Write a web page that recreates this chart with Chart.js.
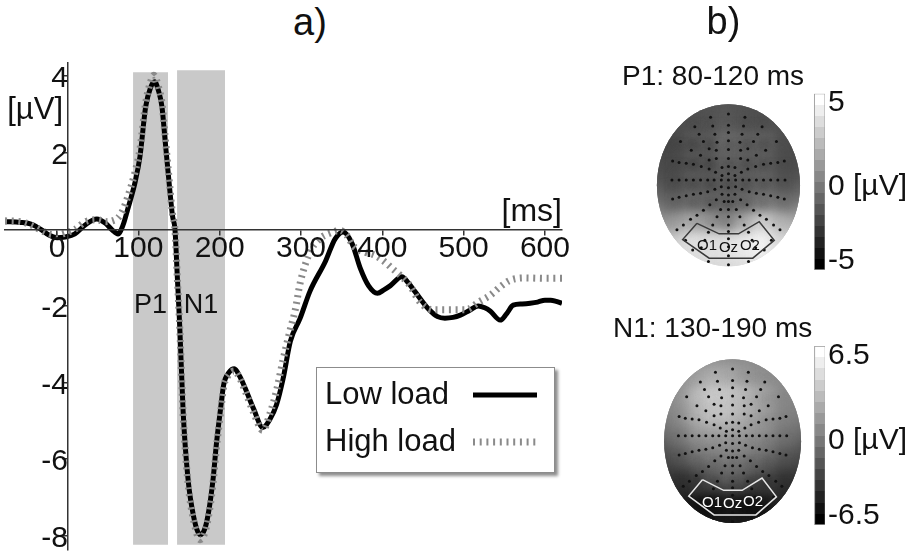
<!DOCTYPE html>
<html>
<head>
<meta charset="utf-8">
<script src="https://cdn.jsdelivr.net/npm/chart.js@4.4.1/dist/chart.umd.min.js"></script>
<style>
  html, body { margin: 0; background: #fff; }
  body { position: relative; width: 914px; height: 555px; overflow: hidden; font-family: 'Liberation Sans', Arial, sans-serif; color: #111; }
  .panel { position: absolute; }
  #panelA { left: 0; top: 0; width: 600px; height: 555px; }
  #panelP1 { left: 600px; top: 0; width: 314px; height: 300px; }
  #panelN1 { left: 600px; top: 300px; width: 314px; height: 255px; }
  #tagA { position: absolute; left: 293px; top: 3px; font-size: 38px; line-height: 38px; }
</style>
</head>
<body>
<div id="tagA">a)</div>
<div class="panel" id="panelA"><canvas id="erp"></canvas></div>
<div class="panel" id="panelP1"><canvas id="topoP1"></canvas></div>
<div class="panel" id="panelN1"><canvas id="topoN1"></canvas></div>
<script>
// ---- a) grand average waveforms (ms, µV) ----
const lowTimes = [-64, -45, -33, -20, -10, 0, 10, 22, 35, 49, 60, 68, 75, 81, 87, 96, 102, 109, 115, 120, 125, 129, 133, 137, 142, 145, 148, 151, 155, 161, 168, 176, 182, 187, 192, 196, 201, 205, 211, 218, 225, 231, 242, 253, 262, 270, 278, 287, 299, 311, 330, 342, 352, 363, 373, 383, 394, 402, 410, 424, 432, 440, 456, 468, 477, 487, 496, 507, 518, 526, 533, 545, 553, 561, 572, 582, 591, 600, 607, 614, 621];
const lowValues = [0.2, 0.18, 0.14, 0.0, -0.15, -0.22, -0.2, -0.12, 0.12, 0.27, 0.15, -0.02, -0.12, 0.1, 0.53, 1.23, 1.9, 3.2, 3.7, 3.85, 3.6, 3.2, 2.3, 1.4, 0.35, 0.0, -1.28, -2.58, -4.73, -6.5, -7.5, -7.97, -7.8, -7.3, -6.5, -5.6, -4.7, -4.05, -3.75, -3.64, -3.85, -4.13, -4.7, -5.17, -4.95, -4.57, -3.9, -2.92, -2.32, -1.62, -0.84, -0.25, -0.07, -0.38, -1.02, -1.47, -1.67, -1.58, -1.47, -1.24, -1.4, -1.62, -2.06, -2.28, -2.32, -2.3, -2.24, -2.12, -2.0, -2.05, -2.14, -2.37, -2.2, -1.98, -1.95, -1.93, -1.9, -1.85, -1.85, -1.88, -1.93];
const highTimes = [-64, -45, -33, -20, -10, 0, 10, 22, 35, 49, 60, 68, 75, 81, 87, 96, 102, 109, 115, 119, 125, 129, 133, 137, 142, 145, 148, 151, 155, 161, 168, 176, 182, 187, 192, 196, 201, 205, 211, 218, 225, 231, 242, 253, 262, 270, 278, 287, 293, 299, 311, 323, 336, 348, 356, 365, 379, 391, 403, 412, 422, 434, 446, 462, 483, 502, 520, 533, 545, 557, 576, 600, 621];
const highValues = [0.22, 0.2, 0.12, -0.02, -0.12, -0.15, -0.1, 0.0, 0.2, 0.25, 0.2, 0.22, 0.3, 0.5, 0.85, 1.5, 2.1, 3.3, 3.85, 4.02, 3.7, 3.3, 2.4, 1.5, 0.4, 0.0, -1.3, -2.6, -4.8, -6.6, -7.6, -8.1, -7.9, -7.4, -6.6, -5.7, -4.8, -4.1, -3.8, -3.7, -3.9, -4.2, -4.8, -5.25, -4.8, -4.2, -3.4, -2.6, -2.1, -1.4, -0.6, -0.25, -0.1, -0.03, -0.15, -0.45, -0.6, -0.68, -0.85, -1.02, -1.2, -1.47, -1.89, -2.1, -2.1, -2.1, -1.88, -1.72, -1.5, -1.33, -1.27, -1.28, -1.28];

const xTicks = [0, 100, 200, 300, 400, 500, 600];
const yTicks = [4, 2, -2, -4, -6, -8];

// analysis windows shaded in grey
const bandNames = ['P1', 'N1'];
const bandStart = [93.5, 147.6];
const bandEnd = [136.5, 206.6];
const bandTop = [4.1, 4.15];
const bandBottom = -8.23;
const bandNameLevel = -2.0;

// ---- b) scalp maps ----
// potential (µV) read on a 9 x 9 grid over the head, rows from front (top) to back
const gridX = [-1, -0.75, -0.5, -0.25, 0, 0.25, 0.5, 0.75, 1];
const gridY = [1, 0.75, 0.5, 0.25, 0, -0.25, -0.5, -0.75, -1];
const p1Grid = [
  [-1.8, -1.8, -1.8, -1.7, -1.6, -1.7, -1.8, -1.8, -1.8],
  [-1.9, -1.9, -2.0, -1.9, -1.5, -1.9, -2.0, -1.9, -1.9],
  [-2.0, -2.3, -2.6, -2.5, -1.6, -2.1, -2.2, -2.0, -1.9],
  [-2.0, -2.2, -2.6, -2.7, -2.0, -2.3, -2.3, -2.1, -2.0],
  [-1.8, -2.1, -2.4, -2.5, -2.3, -2.3, -2.1, -1.9, -1.7],
  [-0.8, -1.2, -1.7, -2.0, -2.1, -1.8, -1.2, -0.8, -0.6],
  [0.6, 1.0, 1.3, 0.4, -0.6, 1.2, 3.0, 2.0, 1.2],
  [2.5, 3.0, 3.8, 3.8, 3.9, 4.2, 4.7, 3.5, 2.8],
  [3.0, 3.2, 3.4, 3.5, 3.5, 3.6, 3.8, 3.3, 3.0]
];
const n1Grid = [
  [0.6, 0.6, 0.7, 0.8, 0.8, 0.7, 0.6, 0.6, 0.6],
  [0.5, 0.7, 1.6, 2.6, 2.2, 1.2, 0.8, 0.5, 0.5],
  [0.3, 1.0, 2.6, 3.6, 3.3, 2.4, 1.0, 0.4, 0.3],
  [0.0, 0.6, 2.0, 3.0, 2.8, 1.8, 0.7, 0.1, 0.0],
  [-1.0, -0.6, 0.4, 0.7, 0.9, 0.4, -0.3, -0.8, -1.0],
  [-2.5, -2.2, -1.6, -1.1, -0.8, -1.2, -1.9, -2.3, -2.5],
  [-3.6, -4.0, -4.4, -3.2, -2.4, -3.3, -4.4, -4.0, -3.6],
  [-4.3, -4.6, -5.7, -5.9, -5.4, -5.9, -5.7, -4.6, -4.3],
  [-4.8, -4.9, -5.0, -5.0, -5.0, -5.0, -5.0, -4.9, -4.8]
];
const p1Scale = [-5, 5];
const n1Scale = [-6.5, 6.5];
const p1BarValues = [5, 0, -5];
const p1BarLabels = ['5', '0 [µV]', '-5'];
const n1BarValues = [6.5, 0, -6.5];
const n1BarLabels = ['6.5', '0 [µV]', '-6.5'];

// electrode positions in head units (x: left -1 .. right 1, y: back -1 .. front 1)
const electrodes = [
  [0, 0.88], [0, 0.74], [0, 0.65], [0, 0.55], [0, 0.44], [0, 0.33], [0, 0.23], [0, 0.14], [0, 0.065], [0, -0.03],
  [0, -0.12], [0, -0.2], [0, -0.3], [0, -0.39], [0, -0.49], [0, -0.57], [0, -0.66], [0, -0.76], [0, -0.87], [0, -0.98],
  [-0.79, 0.065], [-0.69, 0.065], [-0.59, 0.065], [-0.49, 0.065], [-0.39, 0.065], [-0.29, 0.065], [-0.2, 0.065], [-0.1, 0.065],
  [0.1, 0.065], [0.2, 0.065], [0.29, 0.065], [0.39, 0.065], [0.49, 0.065], [0.59, 0.065], [0.69, 0.065], [0.79, 0.065],
  [-0.25, 0.84], [-0.22, 0.73], [-0.19, 0.63], [-0.16, 0.53], [-0.17, 0.43],
  [0.23, 0.84], [0.21, 0.73], [0.19, 0.63], [0.16, 0.53], [0.17, 0.43],
  [-0.47, 0.72], [-0.41, 0.63], [-0.35, 0.54], [-0.27, 0.45], [-0.17, 0.33], [-0.09, 0.22],
  [0.47, 0.72], [0.41, 0.63], [0.35, 0.54], [0.27, 0.45], [0.17, 0.33], [0.09, 0.22],
  [-0.67, 0.54], [-0.52, 0.43], [-0.39, 0.37], [-0.27, 0.31],
  [0.67, 0.54], [0.52, 0.43], [0.39, 0.37], [0.27, 0.31],
  [-0.78, 0.3], [-0.69, 0.28], [-0.59, 0.27], [-0.49, 0.26], [-0.38, 0.23], [-0.27, 0.2], [-0.18, 0.16], [-0.09, 0.12],
  [0.78, 0.3], [0.69, 0.28], [0.59, 0.27], [0.49, 0.26], [0.38, 0.23], [0.27, 0.2], [0.18, 0.16], [0.09, 0.12],
  [-0.78, -0.17], [-0.69, -0.15], [-0.59, -0.13], [-0.49, -0.11], [-0.39, -0.1], [-0.29, -0.08], [-0.19, -0.05], [-0.1, -0.02],
  [0.78, -0.17], [0.69, -0.15], [0.59, -0.13], [0.49, -0.11], [0.39, -0.1], [0.29, -0.08], [0.19, -0.05], [0.1, -0.02],
  [-0.72, -0.55], [-0.63, -0.49], [-0.53, -0.42], [-0.44, -0.37], [-0.35, -0.31], [-0.26, -0.24], [-0.17, -0.18], [-0.09, -0.11],
  [0.72, -0.55], [0.63, -0.49], [0.53, -0.42], [0.44, -0.37], [0.35, -0.31], [0.26, -0.24], [0.17, -0.18], [0.09, -0.11],
  [-0.38, -0.77], [-0.33, -0.68], [-0.28, -0.58], [-0.22, -0.49], [-0.16, -0.39], [-0.11, -0.3], [-0.06, -0.2],
  [0.38, -0.77], [0.33, -0.68], [0.28, -0.58], [0.22, -0.49], [0.16, -0.39], [0.11, -0.3], [0.06, -0.2],
  [-0.6, -0.68], [-0.5, -0.8], [-0.28, -0.94],
  [0.6, -0.68], [0.5, -0.8], [0.28, -0.94]
];
// occipital region of interest
const roiOutline = [[-0.44, -0.47], [-0.13, -0.6], [0.14, -0.6], [0.43, -0.45], [0.64, -0.68], [0.34, -0.9], [-0.27, -0.9], [-0.64, -0.67], [-0.44, -0.47]];
const roiNames = ['O1', 'Oz', 'O2'];
const roiNameX = [-0.3, 0, 0.3];
const roiNameY = [-0.75, -0.77, -0.745];

Chart.defaults.font.family = "'Liberation Sans', Arial, sans-serif";
Chart.defaults.color = '#111';

const pts = (xs, ys) => xs.map((x, i) => ({ x: x, y: ys[i] }));

function grey(v, lo, hi) {
  const g = Math.round(Math.max(0, Math.min(1, (v - lo) / (hi - lo))) * 255);
  return `rgb(${g},${g},${g})`;
}

// axes sitting inside the plot must not eat layout space
const inPlot = (s) => {
  if (s.isHorizontal()) s.height = 0; else s.width = 0;
  s.paddingTop = s.paddingBottom = s.paddingLeft = s.paddingRight = 0;
};

// ---------- panel a ----------
const panelNotes = {
  id: 'panelNotes',
  afterDatasetsDraw(chart) {
    const { ctx, chartArea: a, scales: { x, y } } = chart;
    ctx.save();
    ctx.fillStyle = '#111';
    ctx.textBaseline = 'middle';
    ctx.textAlign = 'center';
    ctx.font = "27px 'Liberation Sans'";
    bandNames.forEach((n, i) => {
      ctx.fillText(n, x.getPixelForValue((bandStart[i] + bandEnd[i]) / 2), y.getPixelForValue(bandNameLevel));
    });
    ctx.textAlign = 'right';
    ctx.font = "31px 'Liberation Sans'";
    ctx.fillText('[µV]', x.getPixelForValue(chart.options.scales.y.position.x) - 5, y.getPixelForValue(3.1));
    ctx.font = "32px 'Liberation Sans'";
    ctx.fillText('[ms]', a.right, y.getPixelForValue(0.45));
    ctx.restore();
  }
};

const loadLegend = {
  id: 'loadLegend',
  afterDraw(chart, args, opts) {
    const { ctx, chartArea: a } = chart;
    const left = a.right - opts.right - opts.width;
    const top = a.bottom - opts.bottom - opts.height;
    ctx.save();
    ctx.shadowColor = 'rgba(0,0,0,0.45)';
    ctx.shadowBlur = 3;
    ctx.shadowOffsetX = 3;
    ctx.shadowOffsetY = 3;
    ctx.fillStyle = '#fff';
    ctx.fillRect(left, top, opts.width, opts.height);
    ctx.shadowColor = 'transparent';
    ctx.strokeStyle = '#8c8c8c';
    ctx.lineWidth = 1;
    ctx.strokeRect(left + 0.5, top + 0.5, opts.width - 1, opts.height - 1);
    ctx.font = "31px 'Liberation Sans'";
    ctx.textBaseline = 'middle';
    ctx.fillStyle = '#111';
    opts.entries.forEach((dsIndex, row) => {
      const ds = chart.data.datasets[dsIndex];
      const yy = top + opts.firstRow + row * opts.rowGap;
      ctx.fillText(ds.label, left + 9, yy);
      ctx.beginPath();
      ctx.setLineDash(ds.borderDash || []);
      ctx.lineWidth = ds.borderWidth;
      ctx.strokeStyle = ds.borderColor;
      ctx.moveTo(left + opts.sampleFrom, yy);
      ctx.lineTo(left + opts.sampleTo, yy);
      ctx.stroke();
    });
    ctx.restore();
  }
};

const bandSets = bandNames.map((n, i) => ({
  label: n + ' window',
  data: [{ x: bandStart[i], y: bandTop[i] }, { x: bandEnd[i], y: bandTop[i] }],
  borderWidth: 0,
  pointRadius: 0,
  backgroundColor: '#c9c9c9',
  fill: { value: bandBottom },
  order: 3
}));

const axisLook = {
  grid: { drawOnChartArea: false, tickLength: 5, color: '#333', lineWidth: 1.5, z: 1 },
  border: { color: '#333', width: 1.5, z: 1 }
};

new Chart(document.getElementById('erp'), {
  type: 'line',
  data: {
    datasets: [
      {
        label: 'High load',
        data: pts(highTimes, highValues),
        borderColor: '#8a8a8a',
        borderWidth: 7,
        borderDash: [2, 4.7],
        pointRadius: 0,
        cubicInterpolationMode: 'monotone',
        order: 1
      },
      {
        label: 'Low load',
        data: pts(lowTimes, lowValues),
        borderColor: '#000',
        borderWidth: 5,
        pointRadius: 0,
        cubicInterpolationMode: 'monotone',
        order: 2
      },
      ...bandSets
    ]
  },
  options: {
    responsive: true,
    maintainAspectRatio: false,
    animation: false,
    events: [],
    layout: { padding: { left: 5, right: 38, top: 63, bottom: 5 } },
    scales: {
      x: {
        type: 'linear',
        min: -64,
        max: 621,
        position: { y: 0 },
        afterFit: inPlot,
        afterBuildTicks: (s) => { s.ticks = xTicks.map(v => ({ value: v })); },
        ...axisLook,
        ticks: { font: { size: 30, lineHeight: 1 }, color: '#111', padding: -1, autoSkip: false, maxRotation: 0, z: 1 }
      },
      y: {
        type: 'linear',
        min: -8.37,
        max: 4.34,
        position: { x: 13.5 },
        afterFit: inPlot,
        afterBuildTicks: (s) => { s.ticks = yTicks.map(v => ({ value: v })); },
        ...axisLook,
        ticks: { font: { size: 30 }, color: '#111', padding: 2, labelOffset: 3, autoSkip: false, z: 1 }
      }
    },
    plugins: {
      legend: { display: false },
      tooltip: { enabled: false },
      loadLegend: { entries: [1, 0], right: 7, bottom: 77, width: 239, height: 106, firstRow: 28, rowGap: 47, sampleFrom: 157, sampleTo: 221 }
    }
  },
  plugins: [panelNotes, loadLegend]
});

// ---------- panel b ----------
const headClip = {
  id: 'headClip',
  beforeDatasetDraw(chart, args) {
    if (chart.data.datasets[args.index].label !== 'field') return;
    const { ctx, scales: { x, y } } = chart;
    const cx = x.getPixelForValue(0), cy = y.getPixelForValue(0);
    ctx.save();
    ctx.beginPath();
    ctx.ellipse(cx, cy, x.getPixelForValue(1) - cx, cy - y.getPixelForValue(1), 0, 0, Math.PI * 2);
    ctx.clip();
    ctx.filter = 'blur(7px)';
  },
  afterDatasetDraw(chart, args) {
    if (chart.data.datasets[args.index].label !== 'field') return;
    chart.ctx.restore();
  }
};

const roiText = {
  id: 'roiText',
  afterDatasetsDraw(chart, args, opts) {
    const { ctx, scales: { x, y } } = chart;
    ctx.save();
    ctx.font = "15px 'Liberation Sans'";
    ctx.fillStyle = opts.color;
    ctx.textAlign = 'center';
    ctx.textBaseline = 'middle';
    roiNames.forEach((n, i) => ctx.fillText(n, x.getPixelForValue(roiNameX[i]), y.getPixelForValue(roiNameY[i])));
    ctx.restore();
  }
};

const barText = {
  id: 'barText',
  afterDraw(chart, args, opts) {
    const { ctx, chartArea: a } = chart;
    const s = chart.scales.yc;
    ctx.save();
    ctx.font = "30px 'Liberation Sans'";
    ctx.fillStyle = '#111';
    ctx.textAlign = 'left';
    ctx.textBaseline = 'middle';
    opts.values.forEach((v, i) => {
      // keep end labels inside the bar's extent
      const yy = Math.min(a.bottom - 9.5, Math.max(a.top + 9.5, s.getPixelForValue(v) + 5));
      ctx.fillText(opts.labels[i], a.right + 3, yy);
    });
    ctx.restore();
  }
};

function barGradient(c) {
  const chart = c.chart;
  const s = chart.scales.yc;
  if (!chart.chartArea || !s) return '#888';
  const y0 = s.getPixelForValue(s.min), y1 = s.getPixelForValue(s.max);
  if (!isFinite(y0) || !isFinite(y1)) return '#888';
  const g = chart.ctx.createLinearGradient(0, y0, 0, y1);
  const steps = 16;
  for (let i = 0; i < steps; i++) {
    const col = grey(i, 0, steps - 1);
    g.addColorStop(i / steps, col);
    g.addColorStop((i + 1) / steps, col);
  }
  return g;
}

function topoChart(id, grid, range, barValues, barLabels, look) {
  // rim cells first and larger, so the blurred field reaches the head outline
  const rim = [], inner = [];
  grid.forEach((row, r) => row.forEach((v, c) => {
    const onRim = r === 0 || c === 0 || r === grid.length - 1 || c === row.length - 1;
    (onRim ? rim : inner).push({ x: gridX[c], y: gridY[r], v: v, rim: onRim });
  }));
  const cells = rim.concat(inner);
  const colours = cells.map(p => grey(p.v, range[0], range[1]));
  return new Chart(document.getElementById(id), {
    type: 'scatter',
    data: {
      datasets: [
        {
          label: 'ROI',
          data: roiOutline.map(p => ({ x: p[0], y: p[1] })),
          showLine: true,
          borderColor: look.roiColor,
          borderWidth: 1.5,
          pointRadius: 0,
          order: 1
        },
        {
          label: 'electrodes',
          data: electrodes.map(p => ({ x: p[0], y: p[1] })),
          pointRadius: 1.5,
          pointBackgroundColor: '#111',
          backgroundColor: '#111',
          pointBorderWidth: 0,
          order: 2
        },
        {
          label: 'field',
          data: cells,
          pointStyle: 'rect',
          pointRadius: (c) => (c.raw && c.raw.rim ? 30 : 17),
          pointBackgroundColor: colours,
          backgroundColor: colours,
          pointBorderWidth: 0,
          clip: false,
          order: 3
        },
        {
          type: 'bar',
          label: 'colour scale',
          data: [{ x: 1.275, y: range }],
          yAxisID: 'yc',
          barThickness: 11,
          borderColor: '#9a9a9a',
          borderWidth: 1,
          borderSkipped: false,
          backgroundColor: barGradient,
          order: 4
        }
      ]
    },
    options: {
      responsive: true,
      maintainAspectRatio: false,
      animation: false,
      events: [],
      layout: { padding: look.padding },
      scales: {
        x: { type: 'linear', min: look.xRange[0], max: look.xRange[1], offset: false, display: false },
        y: { type: 'linear', min: look.yRange[0], max: look.yRange[1], display: false },
        yc: { type: 'linear', min: range[0], max: range[1], display: false }
      },
      plugins: {
        legend: { display: false },
        tooltip: { enabled: false },
        title: look.title,
        subtitle: look.subtitle,
        roiText: { color: look.textColor },
        barText: { values: barValues, labels: barLabels }
      }
    },
    plugins: [headClip, roiText, barText]
  });
}

topoChart('topoP1', p1Grid, p1Scale, p1BarValues, p1BarLabels, {
  roiColor: '#3a3a3a',
  textColor: '#111',
  padding: { left: 22, right: 89, top: 1, bottom: 16 },
  xRange: [-1.376, 1.349],
  yRange: [-1.046, 1.129],
  title: { display: true, text: 'b)', font: { size: 38, weight: 'normal' }, color: '#111', padding: { top: 0, bottom: 0 } },
  subtitle: { display: true, text: 'P1: 80-120 ms', align: 'start', font: { size: 28, weight: 'normal' }, color: '#111', padding: { top: 13.5, bottom: 0 } }
});

topoChart('topoN1', n1Grid, n1Scale, n1BarValues, n1BarLabels, {
  roiColor: '#e6e6e6',
  textColor: '#fff',
  padding: { left: 13, right: 89, top: 12.5, bottom: 18 },
  xRange: [-1.497, 1.349],
  yRange: [-1.023, 1.159],
  title: { display: true, text: 'N1: 130-190 ms', align: 'start', font: { size: 28, weight: 'normal' }, color: '#111', padding: { top: 0, bottom: 0 } },
  subtitle: { display: false }
});
</script>
</body>
</html>
